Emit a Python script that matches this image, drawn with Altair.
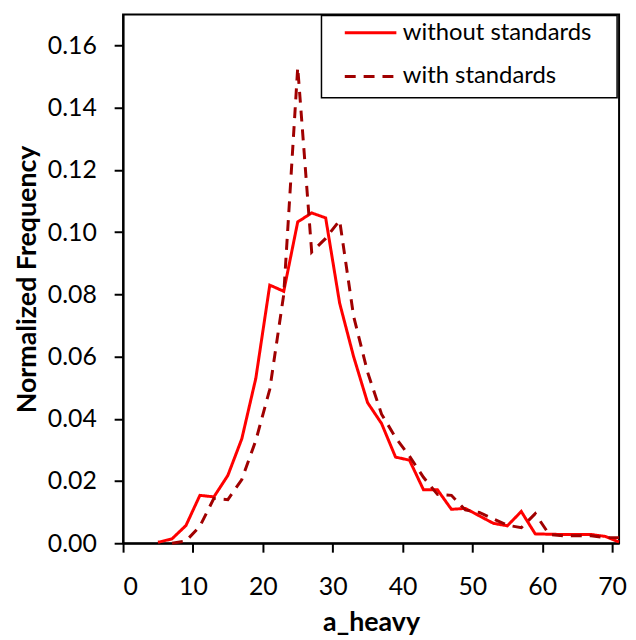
import altair as alt
import pandas as pd

series_names = ["without standards", "with standards"]

x_without = [5, 7, 9, 11, 13, 15, 17, 19, 21, 23, 25, 27, 29, 31, 33, 35, 37, 39,
             41, 43, 45, 47, 49, 51, 53, 55, 57, 59, 61, 63, 65, 67, 69, 71]
y_without = [0.0003, 0.0014, 0.0057, 0.0154, 0.0149, 0.0218, 0.0336, 0.0530, 0.0830,
             0.0810, 0.1033, 0.1062, 0.1046, 0.0772, 0.0600, 0.0452, 0.0385, 0.0277,
             0.0267, 0.0172, 0.0172, 0.0109, 0.0112, 0.0088, 0.0064, 0.0056, 0.0102,
             0.0030, 0.0029, 0.0028, 0.0028, 0.0028, 0.0022, 0.0004]

x_with = [7, 9, 11, 13, 15, 17, 19, 21, 23, 25, 27, 29, 31, 33, 35, 37, 39,
          41, 43, 45, 47, 49, 51, 53, 55, 57, 59, 61, 63, 65, 67, 69, 71]
y_with = [0.0000, 0.0007, 0.0055, 0.0144, 0.0140, 0.0205, 0.0330, 0.0495, 0.0800,
          0.1530, 0.0936, 0.0980, 0.1038, 0.0730, 0.0550, 0.0415, 0.0340, 0.0280,
          0.0212, 0.0157, 0.0154, 0.0107, 0.0099, 0.0078, 0.0058, 0.0050, 0.0095,
          0.0028, 0.0024, 0.0024, 0.0024, 0.0018, 0.0018]

x_ticks = [0, 10, 20, 30, 40, 50, 60, 70]
y_ticks = [0.0, 0.02, 0.04, 0.06, 0.08, 0.10, 0.12, 0.14, 0.16]

rows = []
for xv, yv in zip(x_without, y_without):
    rows.append({"a_heavy": xv, "freq": yv, "series": series_names[0]})
for xv, yv in zip(x_with, y_with):
    rows.append({"a_heavy": xv, "freq": yv, "series": series_names[1]})
df = pd.DataFrame(rows)

legend = alt.Legend(
    title=None,
    orient="none",
    legendX=222,
    legendY=-9,
    padding=0,
    labelOffset=5,
    labelLimit=400,
    labelFont="Lato",
    labelFontSize=24,
    labelColor="black",
    symbolType="stroke",
    symbolSize=2704,
    symbolStrokeWidth=3,
    rowPadding=4,
)

lines = (
    alt.Chart(df)
    .mark_line(strokeWidth=3)
    .encode(
        x=alt.X(
            "a_heavy:Q",
            scale=alt.Scale(domain=[0, 71], nice=False, zero=False),
            axis=alt.Axis(values=x_ticks, title="a_heavy", titlePadding=10,
                          labelPadding=23),
        ),
        y=alt.Y(
            "freq:Q",
            scale=alt.Scale(domain=[0, 0.17], nice=False),
            axis=alt.Axis(values=y_ticks, format=".2f", title="Normalized Frequency",
                          titlePadding=6, labelPadding=18),
        ),
        color=alt.Color(
            "series:N",
            scale=alt.Scale(domain=series_names, range=["#FF0000", "#A00000"]),
            legend=legend,
        ),
        strokeDash=alt.StrokeDash(
            "series:N",
            scale=alt.Scale(domain=series_names, range=[[1, 0], [11, 8]]),
            legend=legend,
        ),
    )
)

# frame drawn around the legend entries
legend_frame = (
    alt.Chart(pd.DataFrame({"k": [0]}))
    .mark_rect(fill="white", stroke="black", strokeWidth=1.5)
    .encode(
        x=alt.value(200),
        x2=alt.value(498),
        y=alt.value(1),
        y2=alt.value(84),
    )
)

chart = (
    alt.layer(lines, legend_frame)
    .properties(
        width=500,
        height=533,
        autosize=alt.AutoSizeParams(type="none"),
        padding={"left": 116, "top": 4, "right": 9, "bottom": 95},
        background="white",
    )
    .configure_view(stroke="black", strokeWidth=2, fill="white")
    .configure_axis(
        grid=False,
        labelFont="Lato",
        labelFontSize=25,
        labelColor="black",
        titleFont="Lato",
        titleFontSize=27,
        titleFontWeight="bold",
        titleColor="black",
        domainColor="black",
        domainWidth=2,
        tickColor="black",
        tickWidth=2,
        tickSize=9,
    )
)

chart.save("out.html", embed_options={"renderer": "svg", "actions": False})
